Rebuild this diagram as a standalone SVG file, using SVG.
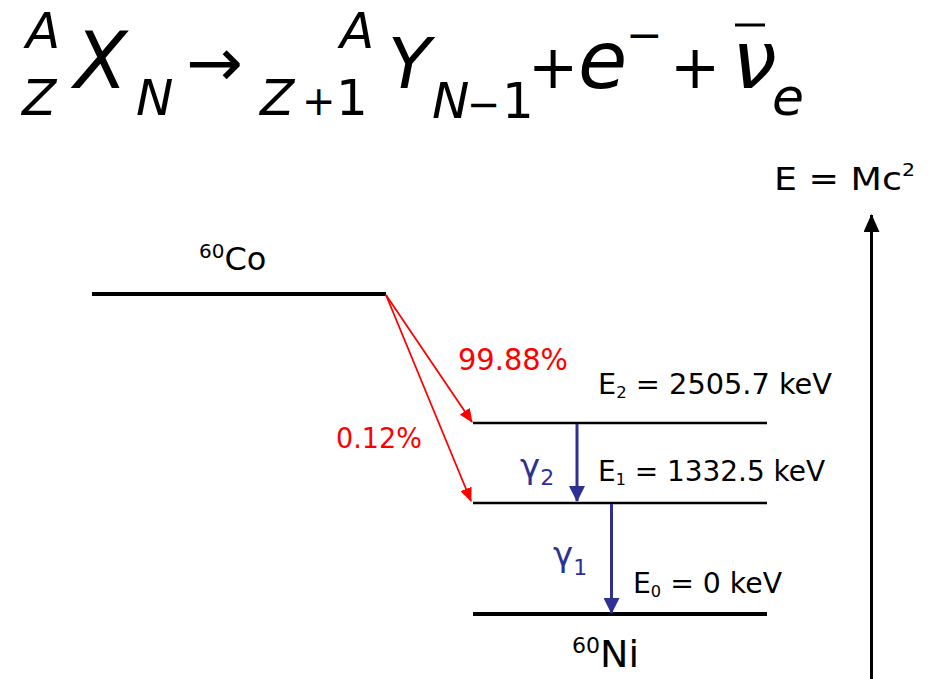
<svg xmlns="http://www.w3.org/2000/svg" width="937" height="679" viewBox="0 0 937 679">
<style>
.eq{font-family:"DejaVu Sans","Liberation Sans",sans-serif;fill:#000}
.it{font-style:italic}
.lbl{font-family:"DejaVu Sans","Liberation Sans",sans-serif;fill:#000}
.red{fill:#ff0000}
.blue{fill:#2e3192}
.lvl{stroke:#000;fill:none}
</style>
<defs>
<marker id="ar" markerWidth="14" markerHeight="12" refX="13" refY="6" orient="auto" markerUnits="userSpaceOnUse"><path d="M0,0 L14,6 L0,12 Z" fill="#ff0000"/></marker>
<marker id="ab" markerWidth="16" markerHeight="16" refX="15" refY="8" orient="auto" markerUnits="userSpaceOnUse"><path d="M0,0 L16,8 L0,16 Z" fill="#2e3192"/></marker>
<marker id="ak" markerWidth="18" markerHeight="16" refX="17" refY="8" orient="auto" markerUnits="userSpaceOnUse"><path d="M0,0 L18,8 L0,16 Z" fill="#000"/></marker>
</defs>
<rect width="937" height="679" fill="#fff"/>

<g id="equation">
<text class="eq it" x="26" y="48" font-size="50">A</text>
<text class="eq it" x="22" y="115" font-size="50">Z</text>
<text class="eq it" x="74" y="88" font-size="78">X</text>
<text class="eq it" x="136" y="115" font-size="50">N</text>
<text class="eq" x="186" y="86" font-size="68">→</text>
<text class="eq it" x="260" y="115" font-size="50">Z</text>
<text class="eq" x="302" y="115" font-size="40">+</text>
<text class="eq" x="336" y="115" font-size="50">1</text>
<text class="eq it" x="340" y="48" font-size="50">A</text>
<text class="eq it" x="388" y="88" font-size="70">Y</text>
<text class="eq it" x="432" y="118" font-size="50">N</text>
<text class="eq" x="467" y="118" font-size="40">−</text>
<text class="eq" x="502" y="118" font-size="50">1</text>
<text class="eq" x="528" y="88" font-size="60">+</text>
<text class="eq it" x="578" y="88" font-size="80">e</text>
<text class="eq" x="626" y="50" font-size="44">−</text>
<text class="eq" x="670" y="88" font-size="60">+</text>
<text class="eq it" x="732" y="88" font-size="80">ν</text>
<line x1="735" y1="25" x2="765" y2="25" stroke="#000" stroke-width="3"/>
<text class="eq it" x="772" y="115" font-size="52">e</text>
</g>

<g id="co60">
<line class="lvl" x1="92" y1="294" x2="386" y2="294" stroke-width="4"/>
<text class="lbl" x="199" y="270" font-size="32"><tspan font-size="20" dy="-12">60</tspan><tspan dy="12">Co</tspan></text>
</g>

<g id="levelE2">
<line class="lvl" x1="473" y1="423" x2="767" y2="423" stroke-width="2.5"/>
<text class="lbl" x="598" y="394" font-size="28" textLength="234" lengthAdjust="spacingAndGlyphs">E<tspan font-size="16" dy="4">2</tspan><tspan dy="-4"> = 2505.7 keV</tspan></text>
</g>

<g id="levelE1">
<line class="lvl" x1="473" y1="503" x2="767" y2="503" stroke-width="2.5"/>
<text class="lbl" x="598" y="481" font-size="28" textLength="227" lengthAdjust="spacingAndGlyphs">E<tspan font-size="16" dy="4">1</tspan><tspan dy="-4"> = 1332.5 keV</tspan></text>
</g>

<g id="ni60">
<line class="lvl" x1="473" y1="614" x2="767" y2="614" stroke-width="4"/>
<text class="lbl" x="633" y="593" font-size="28" textLength="149" lengthAdjust="spacingAndGlyphs">E<tspan font-size="16" dy="4">0</tspan><tspan dy="-4"> = 0 keV</tspan></text>
<text class="lbl" x="572" y="667" font-size="38"><tspan font-size="22" dy="-14">60</tspan><tspan dy="14">Ni</tspan></text>
</g>

<g id="energy-axis">
<text class="lbl" x="774" y="190" font-size="32" textLength="141" lengthAdjust="spacingAndGlyphs">E = Mc<tspan font-size="18" dy="-14">2</tspan></text>
</g>

<g id="connectors">
<line x1="386" y1="295" x2="472" y2="422" stroke="#ff0000" stroke-width="1.8" marker-end="url(#ar)"/>
<line x1="386" y1="295" x2="471" y2="501" stroke="#ff0000" stroke-width="1.8" marker-end="url(#ar)"/>
<line x1="577" y1="424" x2="577" y2="501" stroke="#2e3192" stroke-width="3" marker-end="url(#ab)"/>
<line x1="611.5" y1="504" x2="611.5" y2="613" stroke="#2e3192" stroke-width="3" marker-end="url(#ab)"/>
<line x1="871.5" y1="679" x2="871.5" y2="215" stroke="#000" stroke-width="3" marker-end="url(#ak)"/>
</g>

<g id="labels">
<text class="lbl red" x="458" y="370" font-size="30" textLength="110" lengthAdjust="spacingAndGlyphs">99.88%</text>
<text class="lbl red" x="336" y="448" font-size="28" textLength="86" lengthAdjust="spacingAndGlyphs">0.12%</text>
<text class="lbl blue" x="520" y="478" font-size="34">γ<tspan font-size="22" dy="7">2</tspan></text>
<text class="lbl blue" x="553" y="566" font-size="34">γ<tspan font-size="22" dy="9">1</tspan></text>
</g>
</svg>
